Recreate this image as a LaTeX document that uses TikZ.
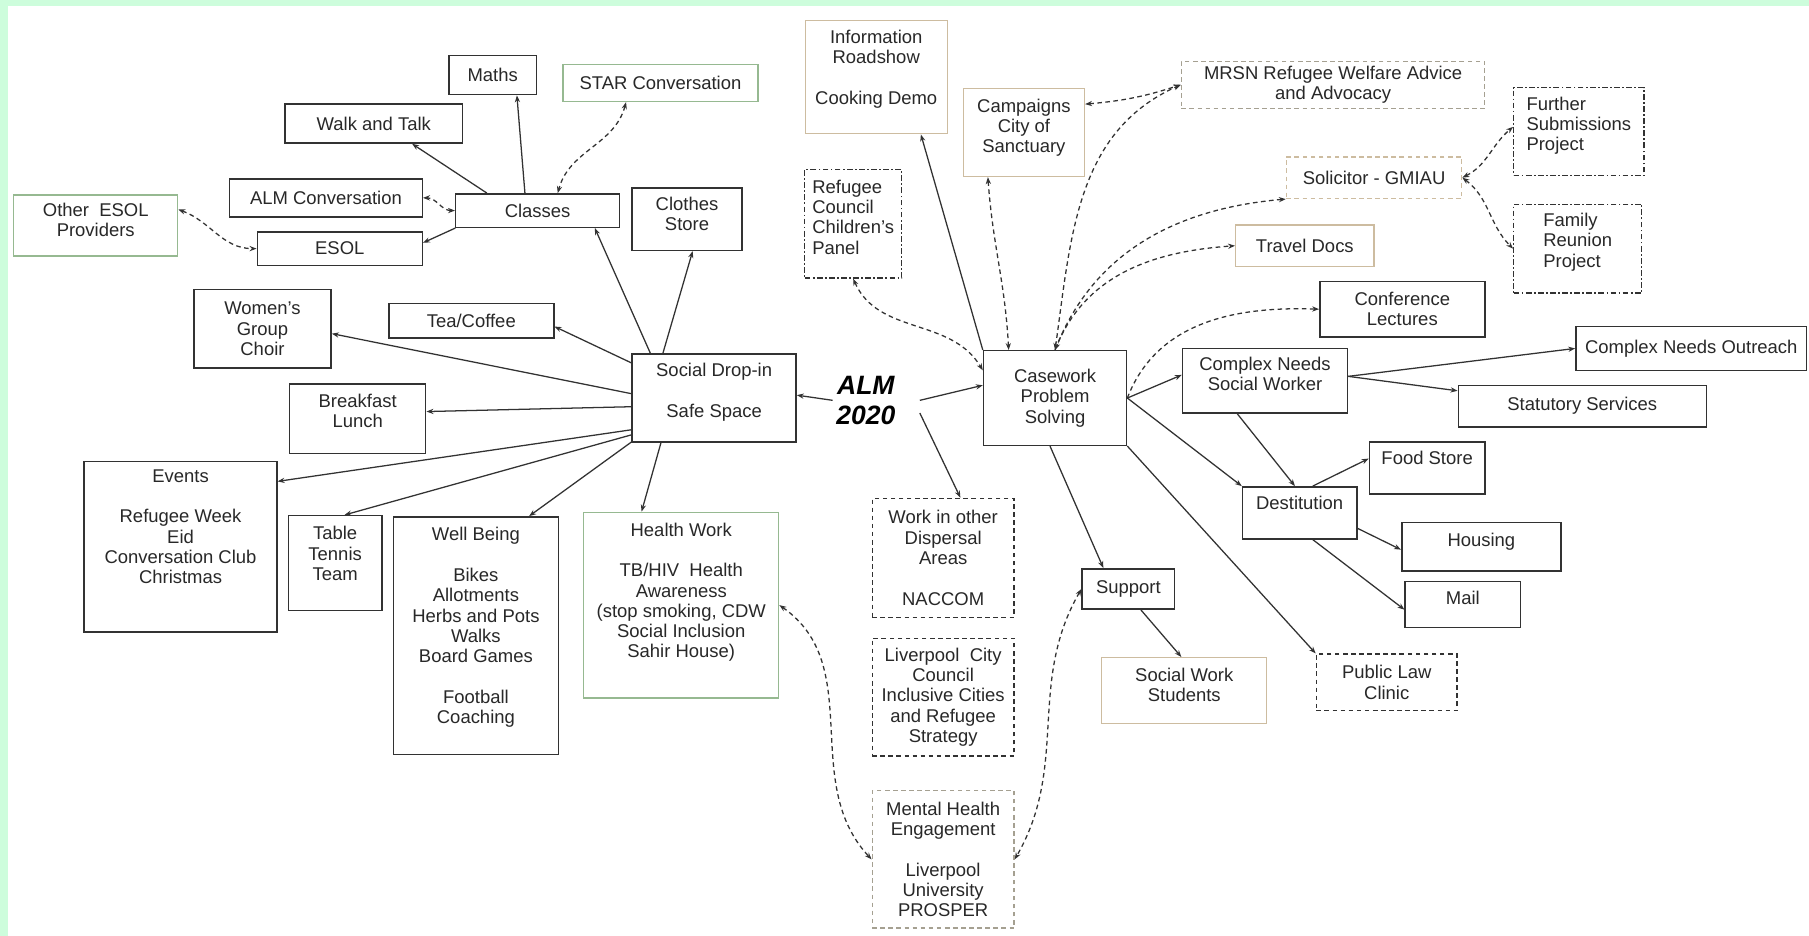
\documentclass[tikz,border=0pt]{standalone}
\usepackage{fontspec}
\setmainfont{Liberation Sans}
\usepackage{tikz}
\usetikzlibrary{positioning, arrows.meta}
\definecolor{mint}{RGB}{205,253,220}
\definecolor{boxline}{RGB}{50,50,50}
\definecolor{greenline}{RGB}{150,185,145}
\definecolor{tanline}{RGB}{205,188,160}
\definecolor{greyline}{RGB}{165,160,145}
\definecolor{inkgrey}{RGB}{40,40,40}
\newcommand{\boxfont}{\fontsize{16}{17.6}\selectfont}
\newcommand{\almfont}{\fontsize{23}{26}\selectfont\bfseries\itshape}

\begin{document}
\begin{tikzpicture}
[x=1pt, y=-1pt,
 ->/.style={draw=boxline, line width=1.1pt, arrows={-Stealth[length=6pt,width=4.5pt]}},
 <->/.style={draw=boxline, line width=1.1pt, arrows={Stealth[length=6pt,width=4.5pt]-Stealth[length=6pt,width=4.5pt]}},
 -->/.style={->, dash pattern=on 4pt off 3pt},
 <-->/.style={<->, dash pattern=on 4pt off 3pt},
 plainB/.style={shape=rectangle, draw=boxline, line width=1.3pt, fill=white, text=inkgrey, font=\boxfont, align=center, inner sep=2pt},
 greenB/.style={plainB, draw=greenline, line width=1.1pt},
 tanB/.style={plainB, draw=tanline, line width=1.1pt},
 greyB/.style={plainB, draw=greyline, line width=1.1pt, dash pattern=on 4pt off 3pt},
 dashB/.style={plainB, line width=1.2pt, dash pattern=on 4pt off 3pt},
 dotB/.style={plainB, line width=1.1pt, dash pattern=on 5pt off 2pt on 1.5pt off 2pt}]
\useasboundingbox (0,0) rectangle (1568,811);
\fill[white] (0,0) rectangle (1568,811);
\fill[mint] (0,0) rectangle (1568,5.2);
\fill[mint] (0,0) rectangle (7,811);

\node[plainB, minimum width=76pt, minimum height=34pt] (Maths) at (427,65) {Maths};
\node[greenB, minimum width=169pt, minimum height=32pt] (Star) at (572.5,72) {STAR Conversation};
\node[plainB, minimum width=154pt, minimum height=34pt] (Walk) at (324,107) {Walk and Talk};
\node[plainB, minimum width=167pt, minimum height=33pt] (ALMc) at (282.5,171.5) {ALM Conversation};
\node[plainB, minimum width=142pt, minimum height=29pt] (Classes) at (466,182.5) {Classes};
\node[greenB, minimum width=142pt, minimum height=53pt] (OEsol) at (83,195.5) {Other\ \ ESOL\\Providers\\[-8pt]~};
\node[plainB, minimum width=143pt, minimum height=29pt] (Esol) at (294.5,215.5) {ESOL};
\node[plainB, minimum width=95pt, minimum height=54pt] (Clothes) at (595.5,190) {Clothes\\Store\\[-8pt]~};
\node[plainB, minimum width=119pt, minimum height=68pt] (Women) at (227.5,285) {Women's\\Group\\Choir};
\node[plainB, minimum width=143pt, minimum height=30pt] (Tea) at (408.5,278) {Tea/Coffee};
\node[plainB, minimum width=118pt, minimum height=60pt] (Breakfast) at (310,363) {Breakfast\\Lunch\\[-4pt]~};
\node[plainB, minimum width=142pt, minimum height=76pt] (Drop) at (619,345) {Social Drop-in\\~\\Safe Space\\[-4pt]~};
\node[plainB, minimum width=167pt, minimum height=148pt] (Events) at (156.5,474) {Events\\~\\Refugee Week\\Eid\\Conversation Club\\Christmas\\~\\~};
\node[plainB, minimum width=81pt, minimum height=82pt] (TT) at (290.5,488) {Table\\Tennis\\Team\\[-1pt]~};
\node[plainB, minimum width=143pt, minimum height=206pt] (WB) at (412.5,551) {Well Being\\~\\Bikes\\Allotments\\Herbs and Pots\\Walks\\Board Games\\~\\Football\\Coaching\\~};
\node[greenB, minimum width=169pt, minimum height=161pt] (Health) at (590.5,524.5) {Health Work\\~\\TB/HIV\ \ Health\\Awareness\\(stop smoking, CDW\\Social Inclusion\\Sahir House)\\[8pt]~};

\node[font=\almfont, align=center, inner sep=3pt] (ALM) at (750.5,347) {ALM\\2020};
\coordinate [right=18pt of ALM.east] (ALMe);
\coordinate [below=11pt of ALMe] (ALMse);

\node[tanB, minimum width=123pt, minimum height=98pt] (Info) at (759.5,67) {Information\\Roadshow\\~\\Cooking Demo\\~};
\node[tanB, minimum width=105pt, minimum height=76pt] (Camp) at (887.5,115) {Campaigns\\City of\\Sanctuary\\[-6pt]~};
\node[dotB, align=left, minimum width=84pt, minimum height=94pt] (RefC) at (739.5,194) {Refugee\\Council\\Children's\\Panel\\[-6pt]~};
\node[greyB, minimum width=263pt, minimum height=41pt] (MRSN) at (1155.5,73.5) {MRSN Refugee Welfare Advice\\and Advocacy};
\node[greyB, draw=tanline, minimum width=152pt, minimum height=36pt] (Sol) at (1191,154) {Solicitor - GMIAU};
\node[dotB, align=left, minimum width=113pt, minimum height=76pt] (FSP) at (1368.5,114) {Further\\Submissions\\Project\\[-4pt]~};
\node[dotB, align=left, minimum width=111pt, minimum height=77pt] (FRP) at (1367.5,215.5) {Family\\Reunion\\Project\\[-3pt]~};
\node[tanB, minimum width=120pt, minimum height=36pt] (Travel) at (1131,213) {Travel Docs};
\node[plainB, minimum width=143pt, minimum height=48pt] (Conf) at (1215.5,268) {Conference\\Lectures};
\node[plainB, minimum width=124pt, minimum height=82pt] (Case) at (914.5,345) {Casework\\Problem\\Solving};
\node[plainB, minimum width=143pt, minimum height=56pt] (CNSW) at (1096.5,330) {Complex Needs\\Social Worker\\[-6pt]~};
\node[plainB, minimum width=200pt, minimum height=38pt] (CNO) at (1466,302) {Complex Needs Outreach};
\node[plainB, minimum width=215pt, minimum height=36pt] (Stat) at (1371.5,352) {Statutory Services};
\node[plainB, minimum width=100pt, minimum height=45pt] (Food) at (1237,405.5) {Food Store\\[-1pt]~};
\node[plainB, minimum width=99pt, minimum height=45pt] (Dest) at (1126.5,444.5) {Destitution\\[-1pt]~};
\node[plainB, minimum width=138pt, minimum height=42pt] (Housing) at (1284,474) {Housing\\[-5pt]~};
\node[plainB, minimum width=100pt, minimum height=40pt] (Mail) at (1268,524) {Mail\\[-6pt]~};
\node[dashB, minimum width=122pt, minimum height=49pt] (PLC) at (1202,591.5) {Public Law\\Clinic};
\node[dashB, minimum width=123pt, minimum height=103pt] (Disp) at (817.5,483.5) {Work in other\\Dispersal\\Areas\\~\\NACCOM};
\node[dashB, minimum width=123pt, minimum height=102pt] (LCC) [below=17pt of Disp] {Liverpool\ \ City\\Council\\Inclusive Cities\\and Refugee\\Strategy};
\node[greyB, minimum width=123pt, minimum height=119pt] (MH) [below=29pt of LCC] {Mental Health\\Engagement\\~\\Liverpool\\University\\PROSPER};
\node[plainB, minimum width=80pt, minimum height=35pt] (Support) at (978,510.5) {Support};
\node[tanB, minimum width=143pt, minimum height=57pt] (SWS) at (1026.5,598.5) {Social Work\\Students\\[-8pt]~};

\draw [->] (Drop.145) -- (Classes.-17.5);
\draw [->] (Drop.139) -- (Clothes.-80.5);
\draw [->] (Drop.157) -- (Tea.-4.8);
\draw [->] (Drop.177.6) -- (Women.-4.8);
\draw [->] (Drop.186) -- (Breakfast.6.8);
\draw [->] (Drop.201.5) -- (Events.34.7);
\draw [->] (Drop.204.3) -- (TT.79.6);
\draw [->] (Drop.208.2) -- (WB.66.4);
\draw [->] (Drop.220.8) -- (Health.113.2);
\draw [->] (Classes.126) -- (Maths.-40);
\draw [->] (Classes.161) -- (Walk.-28);
\draw [<-->] (Classes.west) to[out=180,in=0] (ALMc.east);
\draw [->] (Classes.192.6) -- (Esol.4);
\draw [<-->] (Star.209) to[out=-105,in=75] (Classes.41);
\draw [<-->] (OEsol.11) to[out=-20,in=180] (Esol.west);
\draw [->] (ALM.west) -- (Drop.2);
\draw [->] (ALMe) -- (Case.170);
\draw [->] (ALMse) -- (Disp.74);
\draw [->] (Case.north west) -- (Info.-52);
\draw [<-->] (Camp.-129) to[out=-86,in=93] (Case.134);
\draw [<-->] (RefC.south) to[out=-66,in=121] (Case.159);
\draw [<-->] (Case.north) to[out=82,in=204] (MRSN.west);
\draw [<-->] (Camp.25) to[out=5,in=198] (MRSN.west);
\draw [<-->] (Sol.south west) to[out=185,in=68] (Case.north);
\draw [-->] (Case.north) to[out=69,in=184] (Travel.west);
\draw [-->] (Case.east) to[out=69,in=178] (Conf.west);
\draw [<-->] (Sol.east) to[out=27,in=220] (FSP.176);
\draw [<-->] (Sol.east) to[out=-37,in=135] (FRP.west);
\draw [->] (Case.east) -- (CNSW.176);
\draw [->] (Case.east) -- (Dest.north west);
\draw [->] (Case.south east) -- (PLC.north west);
\draw [->] (Case.-96) -- (Support.140);
\draw [->] (CNSW.3) -- (CNO.west);
\draw [->] (CNSW.3) -- (Stat.173);
\draw [->] (CNSW.-130) -- (Dest.100);
\draw [->] (Dest.64) -- (Food.171);
\draw [->] (Dest.-15) -- (Housing.182);
\draw [->] (Dest.-64) -- (Mail.185);
\draw [->] (Support.-59) -- (SWS.95);
\draw [<-->] (Health.east) to[out=-35,in=133] (MH.west);
\draw [<-->] (Support.west) to[out=240,in=60] (MH.east);
\end{tikzpicture}
\end{document}
